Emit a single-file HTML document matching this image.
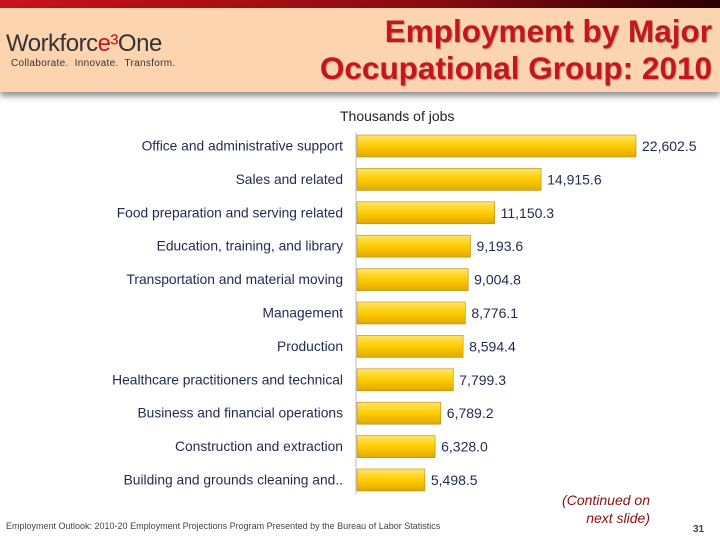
<!DOCTYPE html>
<html><head><meta charset="utf-8"><style>
body{margin:0;width:720px;height:540px;overflow:hidden;background:#fff;font-family:"Liberation Sans",sans-serif;position:relative}
.top{position:absolute;left:0;top:0;width:720px;height:8px;background:linear-gradient(90deg,#c8141c,#8a0c10 60%,#2a0000)}
.band{position:absolute;left:0;top:8px;width:720px;height:84px;background:#fdd4b0;box-shadow:0 4px 6px rgba(0,0,0,.45)}
.title{position:absolute;right:8px;top:13px;text-align:right;color:#c4161c;font-weight:bold;font-size:31.5px;line-height:37px;text-shadow:1px 1px 1px #b89a80}
.logo{position:absolute;left:6px;top:30px;font-size:24px;color:#333;letter-spacing:-0.5px}
.tag{position:absolute;left:11px;top:58px;font-size:10px;color:#333;letter-spacing:0.3px}
.sub{position:absolute;left:340px;top:108px;font-size:14px;color:#222}
.foot{position:absolute;left:6px;top:521px;font-size:9px;color:#444}
.cont{position:absolute;left:540px;top:491px;width:110px;text-align:right;font-style:italic;font-size:14px;color:#8b1010;line-height:18px}
.pg{position:absolute;left:693px;top:524px;font-size:10px;font-weight:bold;color:#444}
</style></head><body>
<div class="top"></div>
<div class="band"></div>
<div class="logo">Workforc<span style="color:#c4161c">e³</span>One</div>
<div class="tag">Collaborate.&nbsp; Innovate.&nbsp; Transform.</div>
<div class="title">Employment by Major<br>Occupational Group: 2010</div>
<div class="sub">Thousands of jobs</div>
<svg id="chart" width="720" height="540" style="position:absolute;left:0;top:0">
<defs><linearGradient id="g" x1="0" y1="0" x2="0" y2="1"><stop offset="0" stop-color="#ffe566"/><stop offset="0.5" stop-color="#ffcc00"/><stop offset="1" stop-color="#e0a800"/></linearGradient></defs>
</svg>
<div class="foot">Employment Outlook: 2010-20 Employment Projections Program Presented by the Bureau of Labor Statistics</div>
<div class="cont">(Continued on<br>next slide)</div>
<div class="pg">31</div>
<script>
const categories=["Office and administrative support","Sales and related","Food preparation and serving related","Education, training, and library","Transportation and material moving","Management","Production","Healthcare practitioners and technical","Business and financial operations","Construction and extraction","Building and grounds cleaning and.."];
const values=[22602.5,14915.6,11150.3,9193.6,9004.8,8776.1,8594.4,7799.3,6789.2,6328.0,5498.5];
const valueLabels=["22,602.5","14,915.6","11,150.3","9,193.6","9,004.8","8,776.1","8,594.4","7,799.3","6,789.2","6,328.0","5,498.5"];
const svg=document.getElementById('chart');const NS='http://www.w3.org/2000/svg';
const x0=356,xScale=v=>x0+v*279/22602.5;
const yc=i=>146+i*33.4;
const ax=document.createElementNS(NS,'line');
ax.setAttribute('x1',x0);ax.setAttribute('x2',x0);ax.setAttribute('y1',132);ax.setAttribute('y2',494);ax.setAttribute('stroke','#bbb');


svg.appendChild(ax);
categories.forEach((c,i)=>{
 const r=document.createElementNS(NS,'rect');
 r.setAttribute('x',x0+1);r.setAttribute('y',yc(i)-11);r.setAttribute('width',xScale(values[i])-x0);r.setAttribute('height',22);
 r.setAttribute('fill','url(#g)');r.setAttribute('stroke','#b08a20');r.setAttribute('stroke-width','0.6');
 
 
 svg.appendChild(r);
 const t=document.createElementNS(NS,'text');
 t.setAttribute('x',343);t.setAttribute('y',yc(i)+4.5);t.setAttribute('text-anchor','end');t.setAttribute('font-size','13.8');t.setAttribute('fill','#1f2a4f');t.setAttribute('font-family','Liberation Sans, sans-serif');
 t.textContent=c;
 
 
 svg.appendChild(t);
 const v=document.createElementNS(NS,'text');
 v.setAttribute('x',xScale(values[i])+7);v.setAttribute('y',yc(i)+5);v.setAttribute('font-size','14');v.setAttribute('fill','#1f2a4f');v.setAttribute('font-family','Liberation Sans, sans-serif');
 v.textContent=valueLabels[i];
 
 
 svg.appendChild(v);
});
</script>
</body></html>
